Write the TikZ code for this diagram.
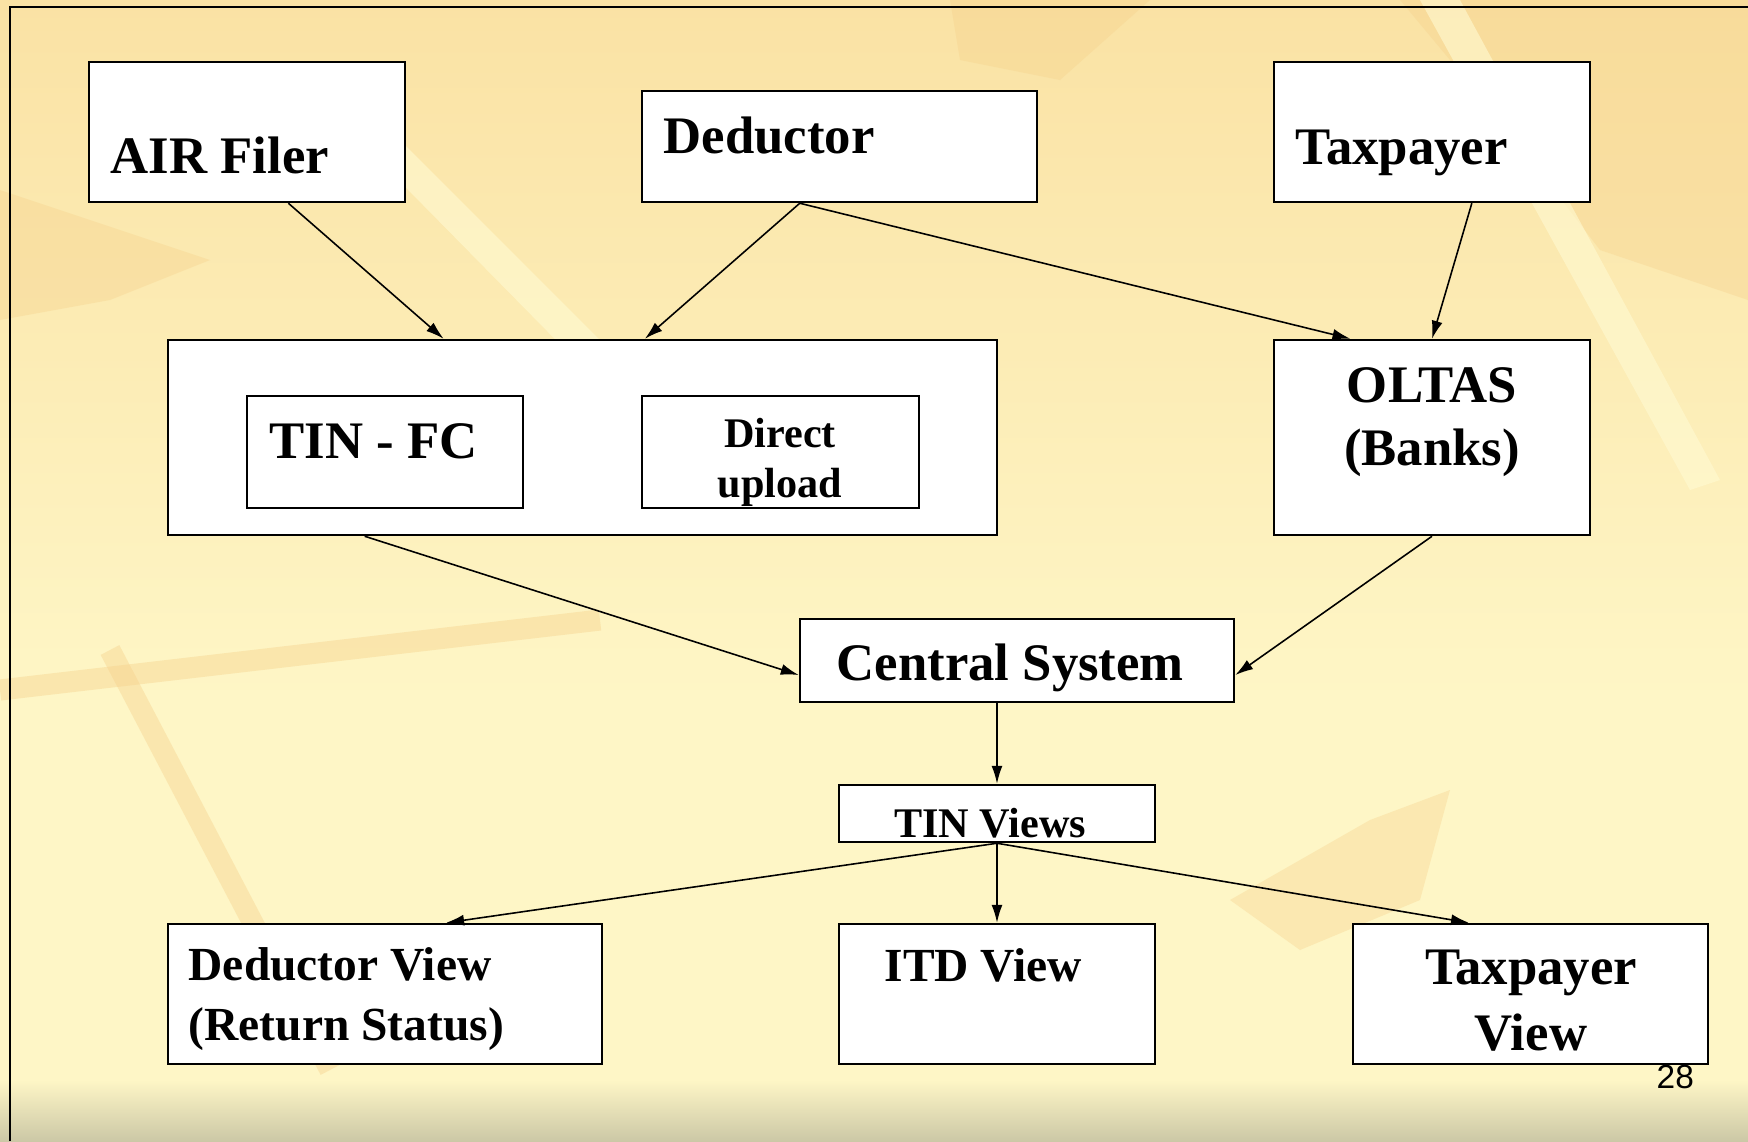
\documentclass[tikz,border=0pt]{standalone}
\usepackage{fontspec}
\setmainfont{Liberation Serif}
\setsansfont{Liberation Sans}
\usetikzlibrary{arrows.meta,fit,calc}
\definecolor{slideTop}{RGB}{250,226,164}
\definecolor{slideMid}{RGB}{254,246,198}
\definecolor{slideLow}{RGB}{204,200,166}
\definecolor{leafOrange}{RGB}{246,208,138}
\definecolor{leafLight}{RGB}{255,250,210}

\begin{document}
\begin{tikzpicture}
[x=0.01cm,y=-0.01cm,
 box/.style={draw,fill=white,line width=0.7pt,inner sep=0pt},
 bigText/.style={font=\bfseries\fontsize{15}{18}\selectfont,inner sep=0pt},
 midText/.style={font=\bfseries\fontsize{13.5}{16}\selectfont,inner sep=0pt},
 smallText/.style={font=\bfseries\fontsize{12}{14}\selectfont,inner sep=0pt},
 flow/.style={-{Latex[length=1.8mm,width=1.1mm]},line width=0.45pt}]
  \useasboundingbox (0,0) rectangle (1748,1141);
  % slide background
  \shade[top color=slideTop,bottom color=slideMid] (0,0) rectangle (1748,700);
  \fill[slideMid] (0,700) rectangle (1748,1080);
  \shade[top color=slideMid,bottom color=slideLow] (0,1080) rectangle (1748,1141);
  \fill[leafOrange,opacity=.35] (0,190) -- (120,230) -- (210,260) -- (110,300) -- (0,320) -- cycle;
  \fill[leafOrange,opacity=.35] (950,0) -- (1150,0) -- (1060,80) -- (960,60) -- cycle;
  \fill[leafOrange,opacity=.35] (1400,0) -- (1748,0) -- (1748,300) -- (1600,250) -- (1500,120) -- cycle;
  \fill[leafLight,opacity=.6] (300,80) -- (330,70) -- (640,380) -- (610,395) -- cycle;
  \fill[leafLight,opacity=.6] (1420,0) -- (1460,0) -- (1720,480) -- (1690,490) -- cycle;
  \draw[leafOrange,line width=6pt,opacity=.4] (110,650) -- (330,1070);
  \draw[leafOrange,line width=6pt,opacity=.4] (0,690) -- (600,620);
  \fill[leafOrange,opacity=.35] (1230,900) -- (1370,820) -- (1450,790) -- (1420,900) -- (1300,950) -- cycle;
  \draw[line width=0.8pt] (10,1141) -- (10,7) -- (1748,7);
  % boxes
  \node[box,fit={(89,62) (405,202)}] (airBox) {};
  \node[box,fit={(642,91) (1037,202)}] (deductorBox) {};
  \node[box,fit={(1274,62) (1590,202)}] (taxpayerBox) {};
  \node[box,fit={(168,340) (997,535)}] (uploadBox) {};
  \node[box,fit={(247,396) (523,508)}] (tinfcBox) {};
  \node[box,fit={(642,396) (919,508)}] (directBox) {};
  \node[box,fit={(1274,340) (1590,535)}] (oltasBox) {};
  \node[box,fit={(800,619) (1234,702)}] (centralBox) {};
  \node[box,fit={(839,785) (1155,842)}] (tinViewsBox) {};
  \node[box,fit={(168,924) (602,1064)}] (dedViewBox) {};
  \node[box,fit={(839,924) (1155,1064)}] (itdViewBox) {};
  \node[box,fit={(1353,924) (1708,1064)}] (taxViewBox) {};
  % texts
  \node[bigText,anchor=base west] (airTxt) at (110,173) {AIR Filer};
  \node[bigText,anchor=base west] (deductorTxt) at (663,153) {Deductor};
  \node[bigText,anchor=base west] (taxpayerTxt) at (1295,164) {Taxpayer};
  \node[bigText,anchor=base west] (tinfcTxt) at (269,458) {TIN - FC};
  \node[smallText,anchor=base] (directTxt) at (780,447) {Direct};
  \node[smallText,anchor=base] (uploadTxt) at (780,497) {upload};
  \node[bigText,anchor=base] (oltasTxt) at (1432,402) {OLTAS};
  \node[bigText,anchor=base] (banksTxt) at (1432,465) {(Banks)};
  \node[bigText,anchor=base west] (centralTxt) at (836,680) {Central System};
  \node[smallText,anchor=base] (tinViewsTxt) at (990,837) {TIN Views};
  \node[midText,anchor=base west] (dedViewTxt) at (188,980) {Deductor View};
  \node[midText,anchor=base west] (returnTxt) at (188,1040) {(Return Status)};
  \node[midText,anchor=base west] (itdViewTxt) at (884,981) {ITD View};
  \node[bigText,anchor=base] (taxViewTxt) at (1531,984) {Taxpayer};
  \node[bigText,anchor=base] (viewTxt) at (1531,1050) {View};
  \node[font=\sffamily\fontsize{9.5}{11}\selectfont,anchor=base west,inner sep=0pt] (pageNum) at (1656,1088) {28};
  % connectors
  \draw[flow] ($(airBox.south west)!.63!(airBox.south east)$) -- ($(uploadBox.north west)!.333!(uploadBox.north east)$);
  \draw[flow] ($(deductorBox.south west)!.40!(deductorBox.south east)$) -- ($(uploadBox.north west)!.575!(uploadBox.north east)$);
  \draw[flow] ($(deductorBox.south west)!.40!(deductorBox.south east)$) -- ($(oltasBox.north west)!.244!(oltasBox.north east)$);
  \draw[flow] ($(taxpayerBox.south west)!.625!(taxpayerBox.south east)$) -- (oltasBox.north);
  \draw[flow] ($(uploadBox.south west)!.238!(uploadBox.south east)$) -- ($(centralBox.north west)!.67!(centralBox.south west)$);
  \draw[flow] (oltasBox.south) -- ($(centralBox.north east)!.67!(centralBox.south east)$);
  \draw[flow] (tinViewsBox.north |- centralBox.south) -- (tinViewsBox.north);
  \draw[flow] (tinViewsBox.south) -- ($(dedViewBox.north west)!.64!(dedViewBox.north east)$);
  \draw[flow] (tinViewsBox.south) -- (itdViewBox.north);
  \draw[flow] (tinViewsBox.south) -- ($(taxViewBox.north west)!.328!(taxViewBox.north east)$);
\end{tikzpicture}
\end{document}
